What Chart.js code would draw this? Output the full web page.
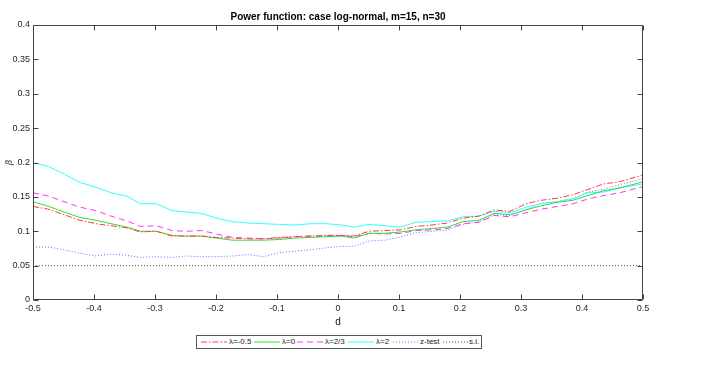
<!DOCTYPE html>
<html>
<head>
<meta charset="utf-8">
<script src="https://cdn.jsdelivr.net/npm/chart.js@4/dist/chart.umd.min.js"></script>
<style>
  html,body{margin:0;padding:0;background:#fff;}
  #wrap{position:relative;width:718px;height:385px;}
  #c{position:absolute;left:0;top:0;}
  #legend{position:absolute;left:196px;top:335px;width:284px;height:12px;border:1px solid #555;background:#fff;
    font-family:"Liberation Sans",Arial,sans-serif;font-size:8px;color:#222;}
  #legend .ln{position:absolute;top:3px;}
  #legend .tx{position:absolute;top:1px;line-height:10px;white-space:nowrap;}
</style>
</head>
<body>
<div id="wrap">
  <canvas id="c" width="718" height="385"></canvas>
  <div id="legend"></div>
</div>
<script>
// ---- data ----
const d = [-0.5,-0.474,-0.449,-0.423,-0.397,-0.372,-0.346,-0.324,-0.298,-0.272,-0.25,-0.224,-0.199,-0.173,-0.147,-0.122,-0.096,-0.071,-0.045,-0.019,0.006,0.026,0.051,0.077,0.103,0.128,0.154,0.179,0.205,0.231,0.256,0.282,0.308,0.333,0.359,0.385,0.410,0.436,0.462,0.5];
const lamNeg05 = [0.136,0.132,0.124,0.116,0.111,0.108,0.105,0.099,0.100,0.093,0.093,0.093,0.091,0.090,0.089,0.089,0.091,0.092,0.093,0.094,0.094,0.093,0.100,0.101,0.102,0.107,0.109,0.112,0.119,0.122,0.131,0.129,0.140,0.145,0.148,0.153,0.161,0.169,0.172,0.182];
const lam0 = [0.143,0.136,0.128,0.120,0.116,0.111,0.106,0.100,0.100,0.094,0.093,0.093,0.090,0.087,0.087,0.087,0.088,0.090,0.091,0.092,0.093,0.090,0.097,0.097,0.099,0.102,0.104,0.106,0.114,0.116,0.126,0.124,0.131,0.137,0.142,0.145,0.152,0.159,0.163,0.172];
const lam23 = [0.156,0.151,0.143,0.135,0.130,0.122,0.115,0.107,0.108,0.101,0.100,0.101,0.096,0.091,0.090,0.089,0.090,0.092,0.093,0.093,0.094,0.092,0.097,0.096,0.097,0.101,0.102,0.104,0.111,0.113,0.123,0.121,0.127,0.132,0.136,0.140,0.147,0.152,0.156,0.165];
const lam2 = [0.200,0.194,0.183,0.171,0.164,0.156,0.151,0.140,0.140,0.130,0.128,0.126,0.119,0.114,0.112,0.111,0.110,0.109,0.111,0.111,0.109,0.106,0.110,0.108,0.106,0.113,0.114,0.115,0.121,0.122,0.129,0.127,0.135,0.140,0.143,0.147,0.156,0.157,0.163,0.169];
const zTest = [0.077,0.077,0.073,0.068,0.064,0.067,0.065,0.062,0.063,0.062,0.064,0.063,0.063,0.064,0.066,0.063,0.069,0.071,0.073,0.076,0.078,0.078,0.086,0.087,0.092,0.098,0.100,0.102,0.110,0.114,0.124,0.123,0.131,0.141,0.143,0.148,0.157,0.161,0.168,0.176];
const slLevel = 0.05;
const seriesNames = ['\u03bb=-0.5','\u03bb=0','\u03bb=2/3','\u03bb=2','z-test','s.l.'];
const xTicks = [-0.5,-0.4,-0.3,-0.2,-0.1,0,0.1,0.2,0.3,0.4,0.5];
const xTickLabels = ['-0.5','-0.4','-0.3','-0.2','-0.1','0','0.1','0.2','0.3','0.4','0.5'];
const yTicks = [0,0.05,0.1,0.15,0.2,0.25,0.3,0.35,0.4];
const yTickLabels = ['0','0.05','0.1','0.15','0.2','0.25','0.3','0.35','0.4'];
const titleText = 'Power function: case log-normal, m=15, n=30';
const xTitle = 'd';
const yTitle = '\u03b2';

// ---- styles ----
const styles = [
  {color:'#ff3a3a', dash:[6,2,1.5,2]},
  {color:'#33dd33', dash:[]},
  {color:'#ff33ff', dash:[6,4]},
  {color:'#33ffff', dash:[]},
  {color:'#6b6bff', dash:[1,2]},
  {color:'#555555', dash:[1,2]}
];
const seriesValues = [lamNeg05, lam0, lam23, lam2, zTest];
const toPts = arr => arr.map((v,i)=>({x:d[i], y:v}));
const datasets = seriesValues.map((arr,k)=>({
  label: seriesNames[k], data: toPts(arr),
  borderColor: styles[k].color, borderDash: styles[k].dash, borderWidth:1,
  pointRadius:0, tension:0, fill:false
}));
datasets.push({
  label: seriesNames[5], data:[{x:d[0],y:slLevel},{x:d[d.length-1],y:slLevel}],
  borderColor: styles[5].color, borderDash: styles[5].dash, borderWidth:1,
  pointRadius:0, tension:0, fill:false
});

const axisColor = '#444';
const boxPlugin = {
  id:'box',
  afterDatasetsDraw(chart){
    const {ctx, chartArea:{left,right,top,bottom}, scales:{x,y}} = chart;
    ctx.save();
    ctx.strokeStyle = axisColor; ctx.lineWidth = 1; ctx.setLineDash([]);
    ctx.beginPath();
    const L = Math.round(left)+0.5, R = Math.round(right)-0.5, T = Math.round(top)+0.5, B = Math.round(bottom)-0.5;
    ctx.rect(L, T, R-L, B-T);
    const tl = 5;
    x.ticks.forEach(t=>{
      const px = Math.round(x.getPixelForValue(t.value))+0.5;
      ctx.moveTo(px,B); ctx.lineTo(px,B-tl);
      ctx.moveTo(px,T); ctx.lineTo(px,T+tl);
    });
    y.ticks.forEach(t=>{
      const py = Math.round(y.getPixelForValue(t.value))+0.5;
      ctx.moveTo(L,py); ctx.lineTo(L+tl,py);
      ctx.moveTo(R,py); ctx.lineTo(R-tl,py);
    });
    ctx.stroke();
    ctx.restore();
  }
};

const fontFam = '"Liberation Sans", Arial, sans-serif';
new Chart(document.getElementById('c'), {
  type:'line',
  data:{datasets},
  plugins:[boxPlugin],
  options:{
    responsive:false, animation:false, devicePixelRatio:1,
    layout:{padding:{left:0,right:75,top:0,bottom:0}},
    plugins:{
      legend:{display:false},
      tooltip:{enabled:false},
      title:{display:true, text:titleText, fullSize:false, color:'#000',
        font:{family:fontFam, size:10, weight:'bold', lineHeight:1.2}, padding:{top:11,bottom:2}}
    },
    scales:{
      x:{type:'linear', min:-0.5, max:0.5,
        afterBuildTicks(s){ s.ticks = xTicks.map(v=>({value:v})); },
        afterFit(s){ s.height = 85; },
        grid:{display:false, drawTicks:false}, border:{display:false},
        ticks:{autoSkip:false, maxRotation:0, padding:3, color:'#262626',
          font:{family:fontFam, size:9}, callback:(v,i)=>xTickLabels[i]},
        title:{display:true, text:xTitle, color:'#111', font:{family:fontFam, size:10, lineHeight:1.2}, padding:{top:0,bottom:57}}
      },
      y:{type:'linear', min:0, max:0.4,
        afterBuildTicks(s){ s.ticks = yTicks.map(v=>({value:v})); },
        afterFit(s){ s.width = 33; },
        grid:{display:false, drawTicks:false}, border:{display:false},
        ticks:{autoSkip:false, padding:3, color:'#262626',
          font:{family:fontFam, size:9}, callback:(v,i)=>yTickLabels[i]},
        title:{display:true, text:yTitle, color:'#333', font:{family:'"DejaVu Serif", serif', size:9, style:'italic', lineHeight:1.2}, padding:{top:4,bottom:0}}
      }
    }
  }
});

// ---- legend ----
const legendPos = [[4,32],[57,85],[100,128],[151,179],[196,223],[246,272]];
const leg = document.getElementById('legend');
seriesNames.forEach((name,k)=>{
  const [lx,tx] = legendPos[k];
  const svg = document.createElementNS('http://www.w3.org/2000/svg','svg');
  svg.setAttribute('width','26'); svg.setAttribute('height','6');
  svg.setAttribute('class','ln'); svg.style.left = lx+'px';
  const line = document.createElementNS('http://www.w3.org/2000/svg','line');
  line.setAttribute('x1','0'); line.setAttribute('x2','26'); line.setAttribute('y1','3'); line.setAttribute('y2','3');
  line.setAttribute('stroke', styles[k].color); line.setAttribute('stroke-width','1');
  if (styles[k].dash.length) line.setAttribute('stroke-dasharray', styles[k].dash.join(' '));
  svg.appendChild(line); leg.appendChild(svg);
  const t = document.createElement('span'); t.className='tx'; t.style.left = tx+'px'; t.textContent = name;
  leg.appendChild(t);
});
</script>
</body>
</html>
